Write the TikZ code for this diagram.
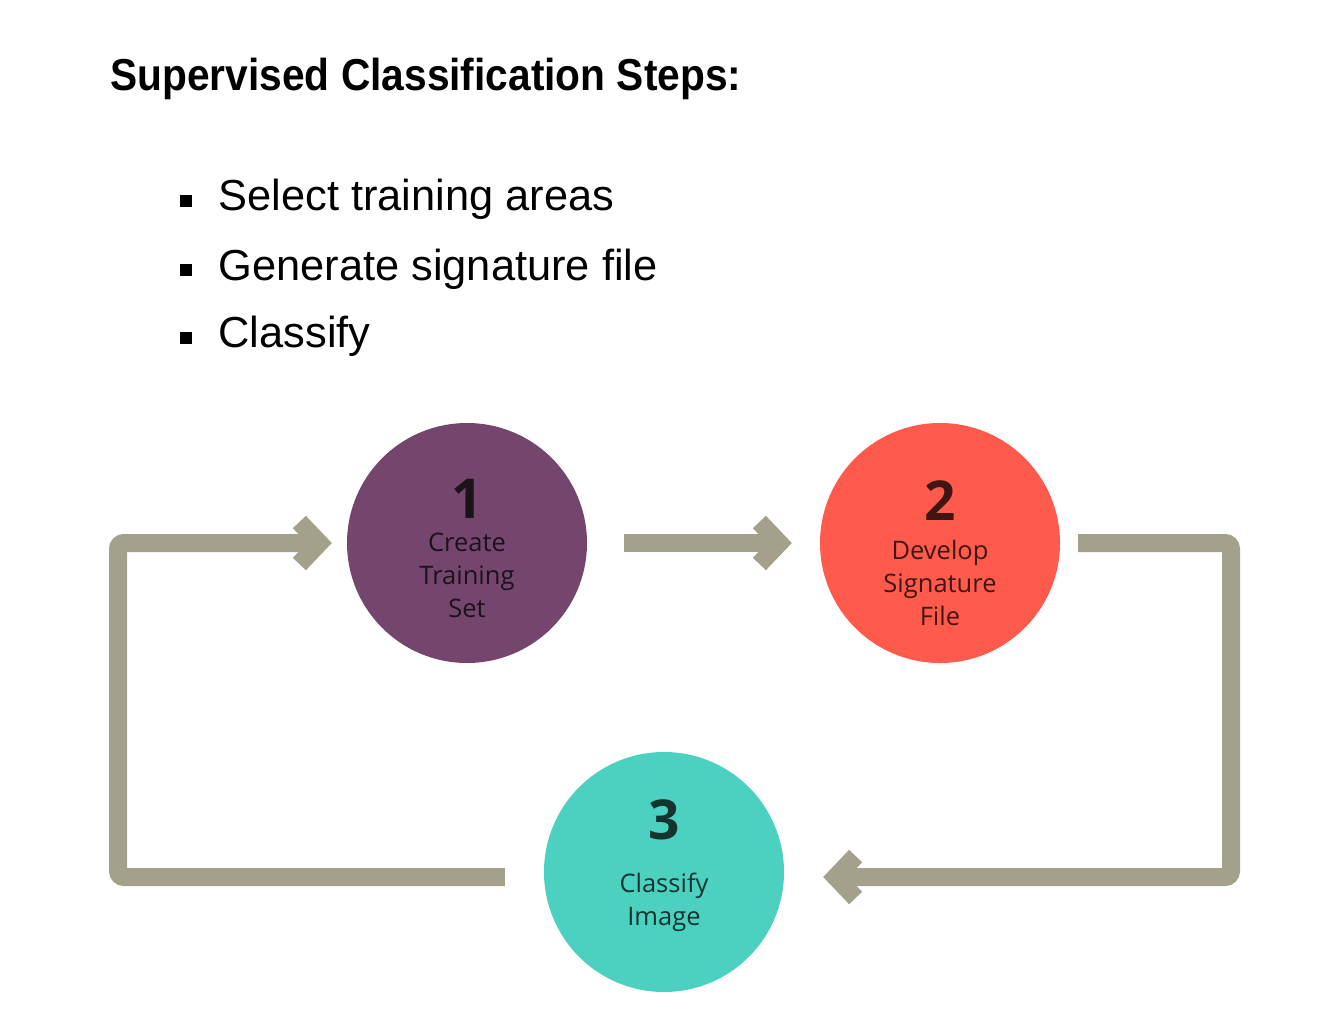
\documentclass[tikz,border=0pt]{standalone}
\usepackage{fontspec}
\setmainfont{Liberation Sans}
\newfontfamily\titlefont[FakeStretch=0.91]{Liberation Sans}
\newfontfamily\circfont{Open Sans}
\usetikzlibrary{arrows.meta}

\definecolor{flowgray}{HTML}{A3A18B}
\definecolor{stepone}{HTML}{74466E}
\definecolor{steptwo}{HTML}{FF5A4C}
\definecolor{stepthree}{HTML}{4CD0BF}

\newcommand{\stepnum}[1]{{\bfseries\fontsize{55}{40}\selectfont #1}}

\begin{document}
\begin{tikzpicture}[x=1pt, y=1pt,
  flow/.style={draw=flowgray, line width=18pt, rounded corners=6pt,
    -{Straight Barb[length=20pt,width=42pt]}},
  stepcircle/.style={circle, minimum size=240pt, inner sep=0pt},
  steptext/.style={align=center, font=\circfont\fontsize{25.5}{33}\selectfont,
    text=black, text opacity=0.75},
  bulletbox/.style={fill=black, minimum size=12pt, inner sep=0pt},
  item/.style={anchor=base west, font=\fontsize{43.4}{50}\selectfont}]

\useasboundingbox (0,0) rectangle (1320,-1020);

% heading and list
\node[anchor=base west, font=\titlefont\bfseries\fontsize{44.7}{52}\selectfont] (title) at (107,-90) {Supervised Classification Steps:};

\node[bulletbox] (b1) at (186,-201) {};
\node[item] (i1) at (215,-210) {Select training areas};
\node[bulletbox] (b2) at (186,-270) {};
\node[item] (i2) at (215,-280) {Generate signature file};
\node[bulletbox] (b3) at (186,-338) {};
\node[item] (i3) at (215,-347) {Classify};

% the three steps
\node[stepcircle, fill=stepone] (c1) at (467,-543) {};
\node[stepcircle, fill=steptwo] (c2) at (940,-543) {};
\node[stepcircle, fill=stepthree] (c3) at (664,-872) {};
\node[steptext] (t1) at ([yshift=-5pt]c1.center) {\stepnum{1}\\Create\\Training\\Set};
\node[steptext] (t2) at ([yshift=-10pt]c2.center) {\stepnum{2}\\[6pt]Develop\\Signature\\File};
\node[steptext] (t3) at ([yshift=6pt]c3.center) {\stepnum{3}\\[20pt]Classify\\Image};

% loop
\coordinate (tl) at (118,-543);
\coordinate (br) at (1231,-877);

\draw[flow, shorten <=37pt, shorten >=28pt] (c1.east) -- (c2.west);
\draw[flow, shorten <=18pt, shorten >=39pt] (c2.east) -| (br) -- ([yshift=-5pt]c3.east);
\draw[flow, shorten <=39pt, shorten >=15pt] ([yshift=-5pt]c3.west) -| (tl) -- (c1.west);

\end{tikzpicture}
\end{document}
